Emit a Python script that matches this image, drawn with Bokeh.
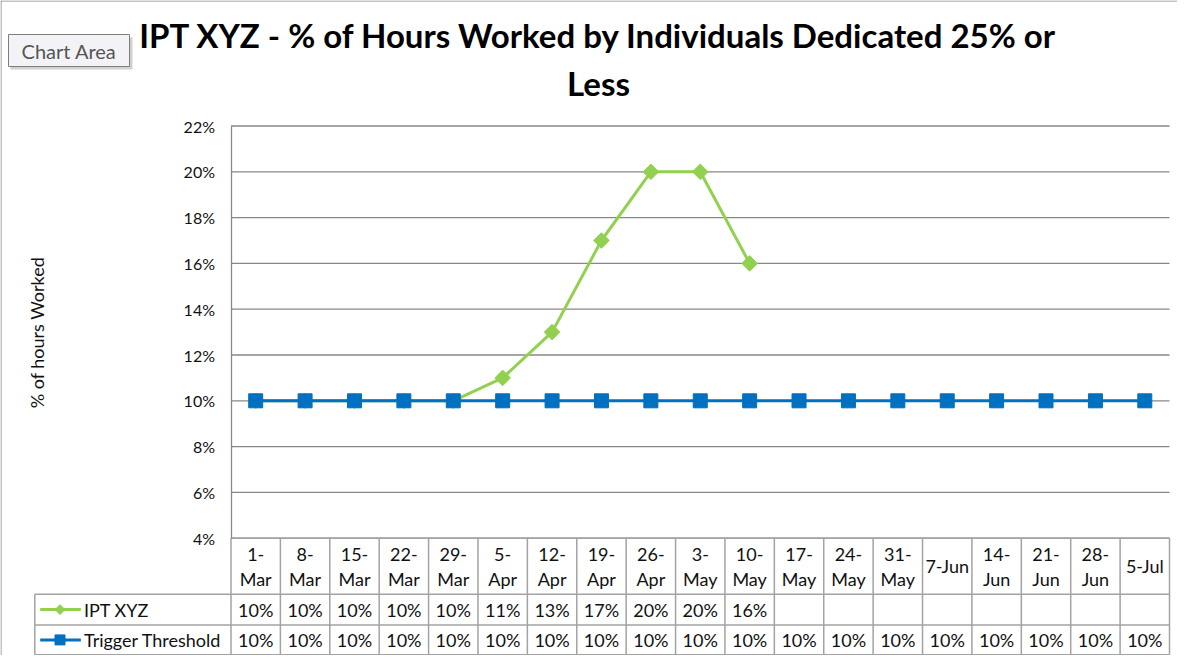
import math
from bokeh.plotting import figure
from bokeh.models import Range1d, FixedTicker, PrintfTickFormatter, ColumnDataSource
from bokeh.core.properties import value
from bokeh.embed import file_html
from bokeh.resources import INLINE

# ---------------- data ----------------
categories = ["1-Mar", "8-Mar", "15-Mar", "22-Mar", "29-Mar", "5-Apr", "12-Apr",
              "19-Apr", "26-Apr", "3-May", "10-May", "17-May", "24-May", "31-May",
              "7-Jun", "14-Jun", "21-Jun", "28-Jun", "5-Jul"]
ipt_xyz = [10, 10, 10, 10, 10, 11, 13, 17, 20, 20, 16,
           None, None, None, None, None, None, None, None]
trigger_threshold = [10, 10, 10, 10, 10, 10, 10, 10, 10, 10,
                     10, 10, 10, 10, 10, 10, 10, 10, 10]
series_names = ["IPT XYZ", "Trigger Threshold"]
series_colors = ["#92D050", "#0070C0"]
y_ticks = [4, 6, 8, 10, 12, 14, 16, 18, 20, 22]
single_line_headers = ["7-Jun", "5-Jul"]
title_lines = ["IPT XYZ - % of Hours Worked by Individuals Dedicated 25% or", "Less"]
y_axis_title = "% of hours Worked"
tooltip_text = "Chart Area"

# ---------------- geometry (figure pixels) ----------------
W, H = 1177, 655
n = len(categories)
PLOT_LEFT, PLOT_RIGHT = 230.5, 1169.0
CW = (PLOT_RIGHT - PLOT_LEFT) / n
Y_MAX = y_ticks[-1]
Y_MAX_PX = 125.5
PX_PER_PCT = 22.9


def fx(px):
    return (px - PLOT_LEFT) / CW


def fy(px):
    return Y_MAX - (px - Y_MAX_PX) / PX_PER_PCT


FONT = value("Lato")
TXT = "#111111"
GRID = "#878787"
TABLE = "#a3a3a3"
TFS = "18px"

p = figure(width=W, height=H, x_range=Range1d(fx(0), fx(W)), y_range=Range1d(fy(H), fy(0)),
           output_backend="svg", toolbar_location=None, min_border=0,
           x_axis_location=None, y_axis_location="left")
p.xgrid.visible = False
p.ygrid.visible = False
p.outline_line_color = None
p.background_fill_color = "white"
p.border_fill_color = "white"

# y axis at the plot-area left edge
ax = p.yaxis[0]
ax.fixed_location = 0
ax.bounds = (y_ticks[0], y_ticks[-1])
ax.ticker = FixedTicker(ticks=y_ticks)
ax.formatter = PrintfTickFormatter(format="%d%%")
ax.major_tick_out = 0
ax.major_tick_in = 0
ax.minor_tick_out = 0
ax.minor_tick_in = 0
ax.axis_line_color = GRID
ax.axis_line_width = 1.3
ax.major_label_standoff = 16
ax.major_label_text_font = "Lato"
ax.major_label_text_font_size = "16px"
ax.major_label_text_color = TXT
ax.axis_label = y_axis_title
ax.axis_label_standoff = 133
ax.axis_label_text_font = "Lato"
ax.axis_label_text_font_size = "18px"
ax.axis_label_text_font_style = "normal"
ax.axis_label_text_color = TXT

# horizontal gridlines (plot area)
p.segment(x0=[0] * len(y_ticks), x1=[n] * len(y_ticks), y0=y_ticks, y1=y_ticks,
          line_color=GRID, line_width=1.3)

# ---------------- series ----------------
xs = [i + 0.5 for i in range(n)]
ipt_vals = [float("nan") if v is None else v for v in ipt_xyz]
src = ColumnDataSource(dict(x=xs, ipt=ipt_vals, trig=trigger_threshold))
p.line("x", "ipt", source=src, line_color=series_colors[0], line_width=3)
p.scatter("x", "ipt", source=src, marker="square", angle=math.pi / 4, size=11,
          fill_color=series_colors[0], line_color=series_colors[0])
p.line("x", "trig", source=src, line_color=series_colors[1], line_width=3)
p.scatter("x", "trig", source=src, marker="square", size=14,
          fill_color=series_colors[1], line_color=series_colors[1])

# ---------------- data table ----------------
hdr_bot, r1_bot, r2_bot = 593.7, 624.5, 654.3
TBL_LEFT = 34.3
p.segment(x0=[0, fx(TBL_LEFT), fx(TBL_LEFT), fx(TBL_LEFT)], x1=[n] * 4,
          y0=[y_ticks[0], fy(hdr_bot), fy(r1_bot), fy(r2_bot)],
          y1=[y_ticks[0], fy(hdr_bot), fy(r1_bot), fy(r2_bot)],
          line_color=TABLE, line_width=1.5)
vx = list(range(n + 1))
p.segment(x0=vx, x1=vx, y0=[y_ticks[0]] * (n + 1), y1=[fy(r2_bot)] * (n + 1),
          line_color=TABLE, line_width=1.5)
p.segment(x0=[fx(TBL_LEFT)], x1=[fx(TBL_LEFT)], y0=[fy(hdr_bot)], y1=[fy(r2_bot)],
          line_color=TABLE, line_width=1.5)

top_x, top_t, bot_x, bot_t, one_x, one_t = [], [], [], [], [], []
for i, c in enumerate(categories):
    if c in single_line_headers:
        one_x.append(i + 0.5)
        one_t.append(c)
    else:
        a, b = c.split("-", 1)
        top_x.append(i + 0.5)
        top_t.append(a + "-")
        bot_x.append(i + 0.5)
        bot_t.append(b)
common = dict(text_font=FONT, text_font_size=TFS, text_color=TXT,
              text_align="center", text_baseline="middle")
p.text(x=top_x, y=[fy(554.0)] * len(top_x), text=top_t, **common)
p.text(x=bot_x, y=[fy(578.5)] * len(bot_x), text=bot_t, **common)
p.text(x=one_x, y=[fy(565.0)] * len(one_x), text=one_t, **common)

row1_y = fy((hdr_bot + r1_bot) / 2)
row2_y = fy((r1_bot + r2_bot) / 2)
p.text(x=xs, y=[row1_y] * n, text=["" if v is None else f"{v}%" for v in ipt_xyz], **common)
p.text(x=xs, y=[row2_y] * n, text=[f"{v}%" for v in trigger_threshold], **common)

for k, ry in enumerate([row1_y, row2_y]):
    p.line(x=[fx(39.7), fx(80.3)], y=[ry, ry], line_color=series_colors[k], line_width=3)
    if k == 0:
        p.scatter(x=[fx(59.5)], y=[ry], marker="square", angle=math.pi / 4, size=7,
                  fill_color=series_colors[k], line_color=series_colors[k])
    else:
        p.scatter(x=[fx(59.5)], y=[ry], marker="square", size=10,
                  fill_color=series_colors[k], line_color=series_colors[k])
    p.text(x=[fx(83.5)], y=[ry], text=[series_names[k]], text_font=FONT,
           text_font_size=TFS, text_color=TXT, text_align="left", text_baseline="middle")

# ---------------- title ----------------
p.text(x=[fx(598)] * 2, y=[fy(34.5), fy(82)], text=title_lines, text_font=FONT,
       text_font_size="33px", text_font_style="bold", text_color="#000000",
       text_align="center", text_baseline="middle")

# ---------------- chart border + "Chart Area" tooltip ----------------
p.segment(x0=[fx(0.5), fx(0)], x1=[fx(0.5), fx(W)], y0=[fy(0), fy(0.5)], y1=[fy(H), fy(0.5)],
          line_color="#8a8a8a", line_width=1)
p.quad(left=[fx(10)], right=[fx(132)], top=[fy(37)], bottom=[fy(69)],
       fill_color="#9a9a9a", fill_alpha=0.45, line_color=None)
p.quad(left=[fx(8)], right=[fx(129)], top=[fy(34)], bottom=[fy(66)],
       fill_color="#f3f3f7", line_color="#7d7d7d", line_width=1)
p.text(x=[fx(68.5)], y=[fy(50)], text=[tooltip_text], text_font=FONT, text_font_size="20px",
       text_color="#555555", text_align="center", text_baseline="middle")

open("out.html", "w").write(file_html(p, INLINE))
